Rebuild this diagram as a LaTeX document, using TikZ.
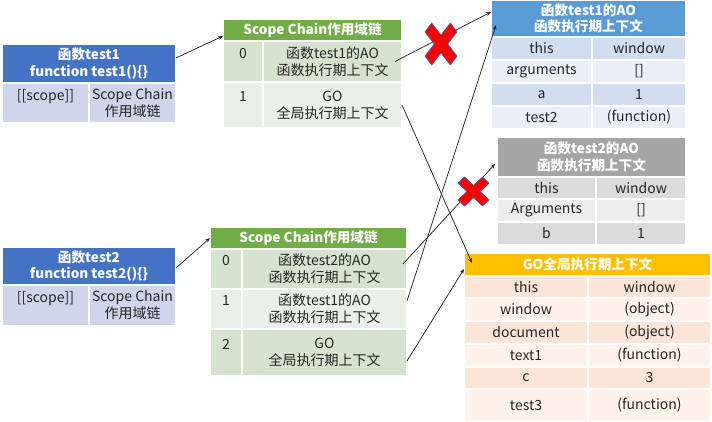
\documentclass[tikz,border=0pt]{standalone}
\usepackage{fontspec}
\setmainfont{Noto Sans CJK SC}
\usetikzlibrary{arrows.meta}
\definecolor{bluehd}{HTML}{4472C4}
\definecolor{bluerow}{HTML}{CFD5EA}
\definecolor{greenhd}{HTML}{70AD47}
\definecolor{greendk}{HTML}{D5E3CF}
\definecolor{greenlt}{HTML}{EAF0E8}
\definecolor{aohd}{HTML}{5B9BD5}
\definecolor{aodk}{HTML}{D2DEEF}
\definecolor{aolt}{HTML}{E9EEF7}
\definecolor{grayhd}{HTML}{A5A5A5}
\definecolor{graydk}{HTML}{DBDBDB}
\definecolor{graylt}{HTML}{EDEDED}
\definecolor{gohd}{HTML}{FFC000}
\definecolor{godk}{HTML}{FCE4D6}
\definecolor{golt}{HTML}{FEF2EA}
\definecolor{txt}{HTML}{262626}
\definecolor{xred}{HTML}{FF0000}
\definecolor{xedge}{HTML}{3A5FA8}
\tikzset{
  cellbox/.style={draw=white, line width=1.5pt, anchor=north west, outer sep=0pt,
    inner sep=0pt, align=center, text=txt, font=\fontsize{14}{17}\selectfont},
  hdbox/.style={cellbox, text=white, font=\bfseries\fontsize{13.6}{16.5}\selectfont},
  conn/.style={draw=black!85, line width=0.75pt, -{Stealth[length=5pt,width=4pt]}},
  xmark/.style={fill=xred, draw=xedge, line width=0.6pt}
}
\newcommand\tcell[7]{\node[cellbox,fill=#6,minimum width={#4-#2},minimum height={#5-#3}] (#1) at (#2,#3) {#7};}
\newcommand\hcell[7]{\node[hdbox,fill=#6,minimum width={#4-#2},minimum height={#5-#3}] (#1) at (#2,#3) {#7};}
\newcommand\redx[4]{%
  \begin{scope}[shift={(#1,#2)}, xscale=#3, yscale=#4]
    \path[xmark] (0.42,0) -- (1,0.58) -- (0.58,1) -- (0,0.42) -- (-0.58,1) -- (-1,0.58)
      -- (-0.42,0) -- (-1,-0.58) -- (-0.58,-1) -- (0,-0.42) -- (0.58,-1) -- (1,-0.58) -- cycle;
  \end{scope}}
\begin{document}
\begin{tikzpicture}[x=1pt, y=-1pt]
\useasboundingbox (0,0) rectangle (712,422);
% test1
\hcell{t1h}{2}{44}{176}{83}{bluehd}{函数test1\\function test1()\{\}}
\tcell{t1a}{2}{83}{89}{123}{bluerow}{[[scope]]\\~}
\tcell{t1b}{89}{83}{176}{123}{bluerow}{Scope Chain\\作用域链}
% test2
\hcell{t2h}{2}{247}{176}{285}{bluehd}{函数test2\\function test2()\{\}}
\tcell{t2a}{2}{285}{89}{326}{bluerow}{[[scope]]\\~}
\tcell{t2b}{89}{285}{176}{326}{bluerow}{Scope Chain\\作用域链}
% scope chain 1
\hcell{sc1h}{223}{19}{402}{41}{greenhd}{Scope Chain作用域链}
\tcell{sc1r0a}{223}{41}{263}{82}{greendk}{0\\~}
\tcell{sc1r0b}{263}{41}{402}{82}{greendk}{函数test1的AO\\函数执行期上下文}
\tcell{sc1r1a}{223}{82}{263}{128}{greenlt}{1\\~}
\tcell{sc1r1b}{263}{82}{402}{128}{greenlt}{GO\\全局执行期上下文}
% scope chain 2
\hcell{sc2h}{210}{227}{407}{249}{greenhd}{Scope Chain作用域链}
\tcell{sc2r0a}{210}{249}{242}{289}{greendk}{0\\~}
\tcell{sc2r0b}{242}{249}{407}{289}{greendk}{函数test2的AO\\函数执行期上下文}
\tcell{sc2r1a}{210}{289}{242}{329}{greenlt}{1\\~}
\tcell{sc2r1b}{242}{289}{407}{329}{greenlt}{函数test1的AO\\函数执行期上下文}
\tcell{sc2r2a}{210}{329}{242}{376}{greendk}{2\\~}
\tcell{sc2r2b}{242}{329}{407}{376}{greendk}{GO\\全局执行期上下文}
% AO test1
\hcell{ao1h}{491}{0}{686}{37}{aohd}{函数test1的AO\\函数执行期上下文}
\tcell{ao1a1}{491}{37}{592}{60}{aodk}{this}
\tcell{ao1b1}{592}{37}{686}{60}{aodk}{window}
\tcell{ao1a2}{491}{60}{592}{83}{aolt}{arguments}
\tcell{ao1b2}{592}{60}{686}{83}{aolt}{[]}
\tcell{ao1a3}{491}{83}{592}{106}{aodk}{a}
\tcell{ao1b3}{592}{83}{686}{106}{aodk}{1}
\tcell{ao1a4}{491}{106}{592}{129}{aolt}{test2}
\tcell{ao1b4}{592}{106}{686}{129}{aolt}{(function)}
% AO test2
\hcell{ao2h}{497}{137}{686}{177}{grayhd}{函数test2的AO\\函数执行期上下文}
\tcell{ao2a1}{497}{177}{596}{199}{graydk}{this}
\tcell{ao2b1}{596}{177}{686}{199}{graydk}{window}
\tcell{ao2a2}{497}{199}{596}{222}{graylt}{Arguments}
\tcell{ao2b2}{596}{199}{686}{222}{graylt}{[]}
\tcell{ao2a3}{497}{222}{596}{245}{graydk}{b}
\tcell{ao2b3}{596}{222}{686}{245}{graydk}{1}
% GO
\hcell{goh}{464}{253}{711}{276}{gohd}{GO全局执行期上下文}
\tcell{goa1}{464}{276}{588}{298}{godk}{this}
\tcell{gob1}{588}{276}{711}{298}{godk}{window}
\tcell{goa2}{464}{298}{588}{321}{golt}{window}
\tcell{gob2}{588}{298}{711}{321}{golt}{(object)}
\tcell{goa3}{464}{321}{588}{344}{godk}{document}
\tcell{gob3}{588}{321}{711}{344}{godk}{(object)}
\tcell{goa4}{464}{344}{588}{367}{golt}{text1}
\tcell{gob4}{588}{344}{711}{367}{golt}{(function)}
\tcell{goa5}{464}{367}{588}{389}{godk}{c}
\tcell{gob5}{588}{367}{711}{389}{godk}{3}
\tcell{goa6}{464}{389}{588}{422}{golt}{test3}
\tcell{gob6}{588}{389}{711}{422}{golt}{(function)}
% connectors
\draw[conn] ([yshift=5.5pt]t1h.east) -- ([yshift=-6pt]sc1h.west);
\draw[conn] ([yshift=-2pt]t2h.east) -- (sc2h.west);
\draw[conn] ([xshift=-7pt]sc1r0b.east) -- ([yshift=6.5pt]ao1h.west);
\draw[conn] (sc1r1b.east) -- ([xshift=8pt,yshift=-10pt]goh.north west);
\draw[conn] ([xshift=-4pt,yshift=5pt]sc2r0b.east) -- ([xshift=-2pt,yshift=-7pt]ao2h.west);
\draw[conn] ([yshift=8pt]sc2r1b.east) -- ([xshift=5pt,yshift=-6.5pt]ao1h.west);
\draw[conn] ([yshift=-8.5pt]sc2r2b.east) -- ([yshift=-4.5pt]goh.west);
% red crosses
\redx{441}{44}{16}{21}
\redx{473.5}{191.5}{15.5}{14.5}
\end{tikzpicture}
\end{document}
